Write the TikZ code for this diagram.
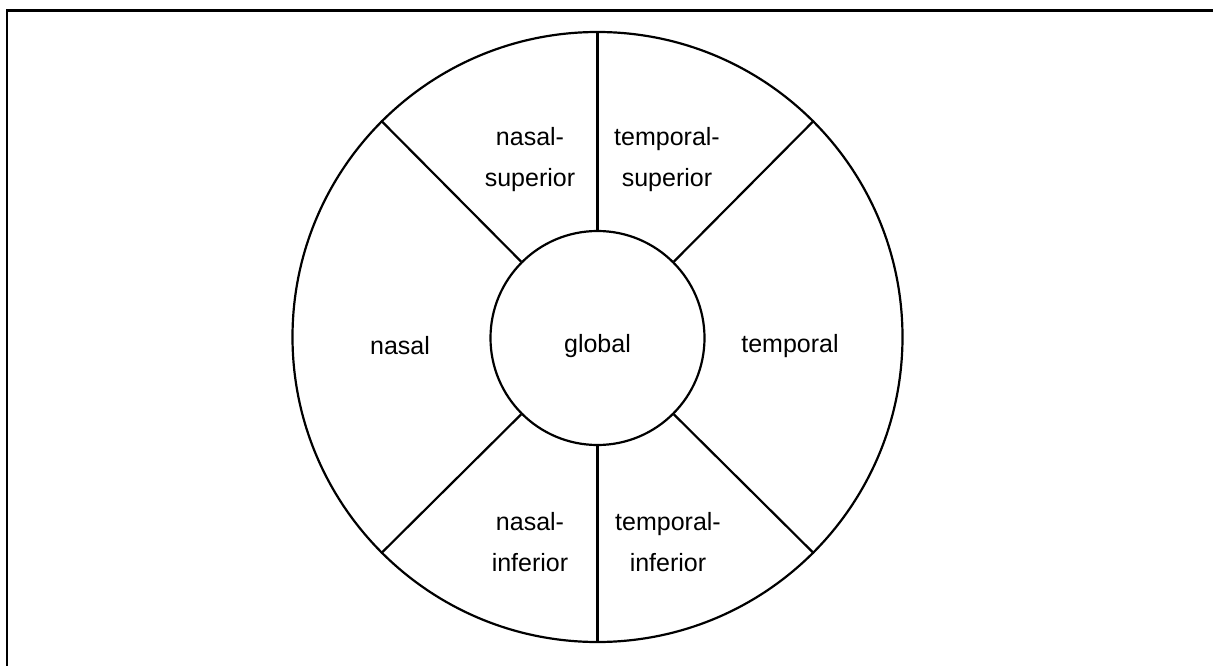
\documentclass[tikz,border=0pt]{standalone}
\usepackage{fontspec}
\setmainfont{Liberation Sans}
\begin{document}
\begin{tikzpicture}[x=1pt,y=-1pt,
  ring/.style={circle, draw, line width=2.2pt, inner sep=0pt},
  spoke/.style={line width=2.2pt},
  lbl/.style={font=\fontsize{25}{41}\selectfont, align=center, inner sep=0pt},
  frame/.style={line width=2.6pt}]
\useasboundingbox (0,0) rectangle (1213,666);
\coordinate (fbl) at (7,667);
\coordinate (ftl) at (7,10.5);
\coordinate (ftr) at (1214,10.5);
\draw[frame] (fbl) -- (ftl) -- (ftr);
\node[ring, minimum size=610pt] (o) at (597.5,337) {};
\node[ring, minimum size=214pt] (g) at (597.5,338) {};
\node[lbl] (gl) at (597.5,346) {global};
\foreach \a in {90,45,135,225,270,315}{
  \draw[spoke] (g.\a) -- (o.\a);
}
\node[lbl] (nasal) at (400,346) {nasal};
\node[lbl] (temporal) at (790,346) {temporal};
\node[lbl] (ns) at (530,160) {nasal-\\superior};
\node[lbl] (ts) at (667,160) {temporal-\\superior};
\node[lbl] (ni) at (530,542) {nasal-\\inferior};
\node[lbl] (ti) at (668,542) {temporal-\\inferior};
\end{tikzpicture}
\end{document}
